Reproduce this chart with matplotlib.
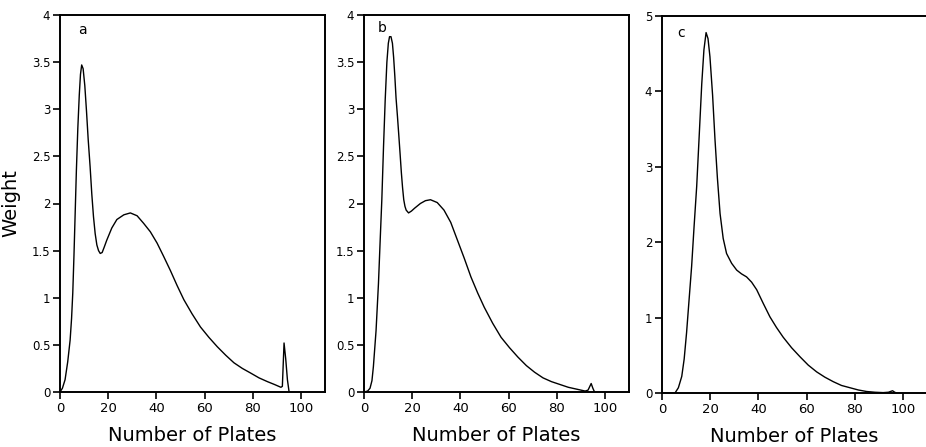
import matplotlib
matplotlib.use("Agg")
import matplotlib.pyplot as plt

# Panel a
a_x = [0, 1.0, 2.1, 3.2, 4.2, 4.8, 5.3, 5.8, 6.3, 6.8, 7.4, 8.0, 8.5, 9.0, 9.6, 10.3, 11.0, 11.7, 12.5, 13.2, 13.9, 14.6, 15.3, 16.0, 16.7, 17.5, 18.4, 19.4, 21.5, 23.6, 26.5, 29.2, 32.0, 34.7, 37.5, 40.3, 43.0, 45.8, 48.6, 51.4, 54.8, 58.3, 61.8, 65.3, 68.8, 72.2, 75.7, 79.2, 82.6, 86.1, 89.0, 91.7, 92.3, 93.0, 93.7, 94.4, 95.1]
a_y = [0, 0.04, 0.13, 0.32, 0.55, 0.78, 1.05, 1.45, 1.9, 2.35, 2.8, 3.15, 3.37, 3.47, 3.43, 3.25, 2.98, 2.68, 2.39, 2.1, 1.86, 1.68, 1.56, 1.50, 1.47, 1.48, 1.54, 1.61, 1.74, 1.83, 1.88, 1.90, 1.87, 1.79, 1.70, 1.58, 1.44, 1.29, 1.13, 0.98, 0.83, 0.69, 0.58, 0.48, 0.39, 0.31, 0.25, 0.20, 0.15, 0.11, 0.08, 0.05, 0.06, 0.52, 0.35, 0.13, 0]

# Panel b
b_x = [0, 1.5, 2.5, 3.3, 3.9, 5.0, 6.0, 6.7, 7.4, 8.1, 8.8, 9.5, 10.1, 10.6, 11.2, 11.8, 12.3, 12.8, 13.3, 13.9, 14.4, 15.0, 15.5, 16.0, 16.5, 17.0, 17.5, 18.5, 19.7, 21.0, 23.4, 25.5, 27.6, 30.4, 33.2, 36.0, 38.8, 41.6, 44.4, 47.2, 49.9, 53.4, 56.9, 60.4, 63.9, 67.4, 70.8, 74.3, 77.8, 81.3, 84.8, 88.3, 91.8, 93.0, 94.3, 95.0, 95.7]
b_y = [0, 0.01, 0.04, 0.12, 0.27, 0.65, 1.15, 1.6, 2.04, 2.6, 3.1, 3.5, 3.7, 3.77, 3.77, 3.7, 3.55, 3.35, 3.12, 2.92, 2.74, 2.52, 2.33, 2.17, 2.04, 1.97, 1.93, 1.90, 1.92, 1.95, 2.0, 2.03, 2.04, 2.01, 1.93, 1.80, 1.61, 1.42, 1.22, 1.05, 0.90, 0.73, 0.58, 0.47, 0.37, 0.28, 0.21, 0.15, 0.11, 0.08, 0.05, 0.03, 0.01, 0.02, 0.09, 0.04, 0]

# Panel c
c_x = [0, 5.4, 6.8, 8.2, 9.2, 10.2, 11.2, 12.3, 13.3, 14.4, 15.5, 16.5, 17.4, 18.3, 19.1, 19.9, 21.0, 22.0, 23.0, 24.1, 25.4, 26.8, 28.9, 31.0, 33.0, 35.1, 37.2, 39.3, 42.0, 44.8, 47.5, 50.3, 53.8, 57.3, 60.7, 64.2, 67.6, 71.1, 74.5, 78.0, 81.5, 84.9, 88.4, 91.8, 94.0, 95.7, 96.6, 97.4]
c_y = [0, 0, 0.07, 0.22, 0.45, 0.8, 1.22, 1.68, 2.2, 2.74, 3.45, 4.1, 4.55, 4.78, 4.70, 4.46, 3.95, 3.36, 2.85, 2.38, 2.05, 1.85, 1.72, 1.63, 1.58, 1.54, 1.47, 1.37, 1.19, 1.01, 0.87, 0.74, 0.60, 0.48, 0.37, 0.28, 0.21, 0.15, 0.10, 0.07, 0.04, 0.02, 0.01, 0.005, 0.01, 0.03, 0.01, 0]

x_ticks = [0, 20, 40, 60, 80, 100]
ab_yticks = [0, 0.5, 1, 1.5, 2, 2.5, 3, 3.5, 4]
ab_ylabels = ["0", "0.5", "1", "1.5", "2", "2.5", "3", "3.5", "4"]
c_yticks = [0, 1, 2, 3, 4, 5]
c_ylabels = ["0", "1", "2", "3", "4", "5"]
panel_letters = ["a", "b", "c"]
xlabel = "Number of Plates"
ylabel = "Weight"

W, H = 926, 447
fig = plt.figure(figsize=(W / 100, H / 100), dpi=100)
plt.rcParams['font.family'] = ['DejaVu Sans']

def rect(left, right, top, bottom):
    return [left / W, 1 - bottom / H, (right - left) / W, (bottom - top) / H]

rects = [rect(60, 325, 15, 392), rect(364, 629, 15, 392), rect(662, 927, 16, 393)]
datasets = [(a_x, a_y, 4, ab_yticks, ab_ylabels),
            (b_x, b_y, 4, ab_yticks, ab_ylabels),
            (c_x, c_y, 5, c_yticks, c_ylabels)]
letter_pos = [(0.068, 0.96), (0.053, 0.965), (0.057, 0.955)]

for i, (r, (xs, ys, ymax, yt, yl)) in enumerate(zip(rects, datasets)):
    ax = fig.add_axes(r)
    ax.plot(xs, ys, color="black", lw=1.0)
    ax.set_xlim(0, 110)
    ax.set_ylim(0, ymax)
    ax.set_xticks(x_ticks)
    ax.set_xticklabels([str(t) for t in x_ticks], fontsize=9.5)
    ax.set_yticks(yt)
    ax.set_yticklabels(yl, fontsize=8.5)
    ax.tick_params(direction="out", length=5, width=1.2, pad=2, colors="black")
    for s in ax.spines.values():
        s.set_linewidth(1.4)
    ax.set_xlabel(xlabel, fontsize=14, labelpad=8)
    if i == 0:
        ax.set_ylabel(ylabel, fontsize=14, labelpad=8, fontweight="medium")
    ax.text(letter_pos[i][0], letter_pos[i][1], panel_letters[i], transform=ax.transAxes,
            fontsize=10, va="center", ha="left")

fig.savefig("out.png", dpi=100)
